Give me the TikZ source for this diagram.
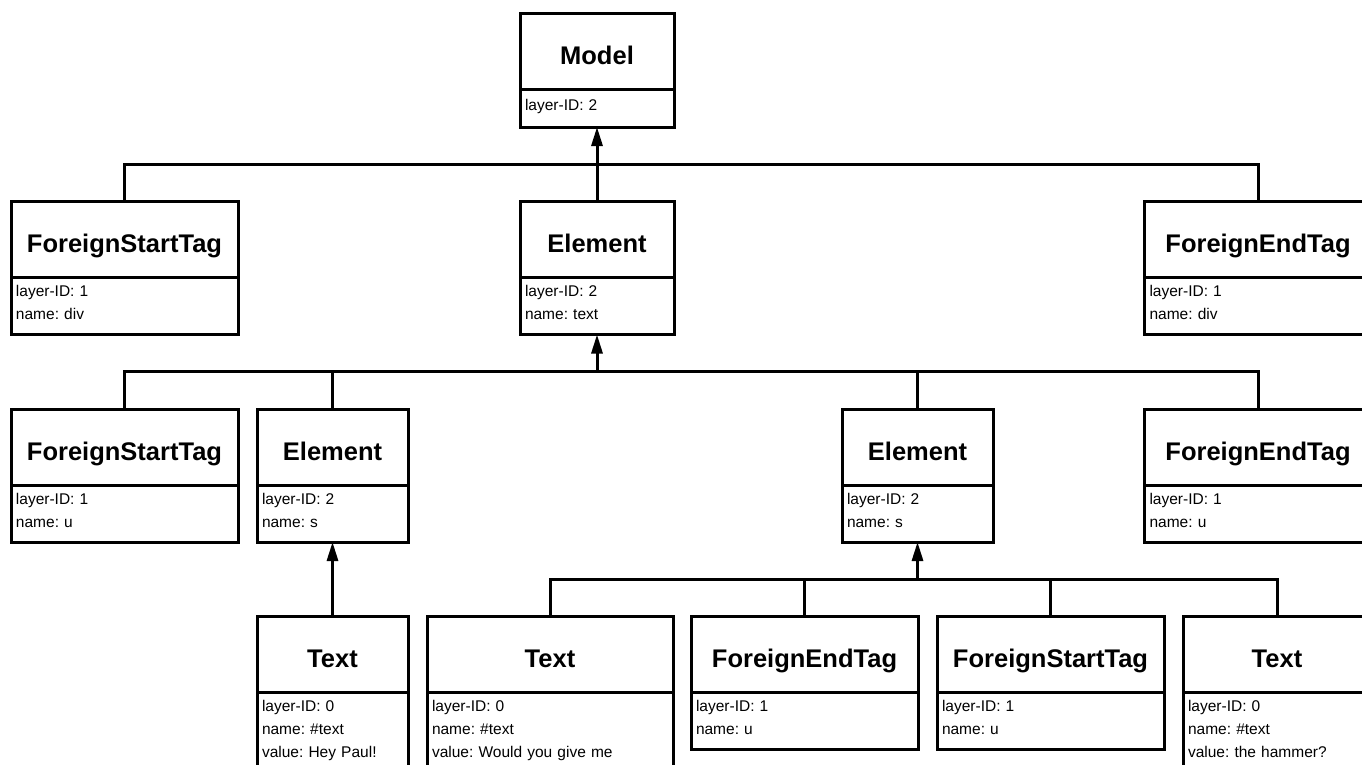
\documentclass[tikz,border=0pt]{standalone}
\usepackage{fontspec}
\setmainfont{Liberation Sans}
\usetikzlibrary{positioning}
\usetikzlibrary{arrows.meta}

\begin{document}
\begin{tikzpicture}[x=1pt,y=-1pt,>={Triangle[length=19pt,width=11pt]},
                line width=3pt,node distance=0pt,
                head/.style={draw,outer sep=0pt,inner sep=0pt,minimum width=#1,minimum height=76pt,
                  text height=26pt,text depth=0pt,font=\bfseries\fontsize{25.5}{30}\selectfont},
                attr/.style={draw,outer sep=0pt,inner xsep=5pt,inner ysep=0pt,text width=#1,align=left,
                  font=\fontsize{15.5}{23}\selectfont\frenchspacing,
                  execute at begin node={\rule{0pt}{19pt}},
                  execute at end node={\rule[-15pt]{0pt}{15pt}}}]

  \useasboundingbox (0,0) rectangle (1362,764);
  \clip (0,0) rectangle (1362,764);

  \node[head=154pt] (1) at (597,51) {Model};
  \node[attr=144pt,minimum height=38pt,below=of 1] (1a) {layer-ID: 2};

  \node[head=227pt] (2) at (124.5,239.5) {ForeignStartTag};
  \node[attr=217pt,below=of 2] (2a) {layer-ID: 1\\name: div};
  \node[head=154pt] (3) at (597,239.5) {Element};
  \node[attr=144pt,below=of 3] (3a) {layer-ID: 2\\name: text};
  \node[head=227pt] (4) at (1258,239.5) {ForeignEndTag};
  \node[attr=217pt,below=of 4] (4a) {layer-ID: 1\\name: div};

  \node[head=227pt] (5) at (124.5,447) {ForeignStartTag};
  \node[attr=217pt,below=of 5] (5a) {layer-ID: 1\\name: u};
  \node[head=151pt] (6) at (332.5,447) {Element};
  \node[attr=141pt,below=of 6] (6a) {layer-ID: 2\\name: s};
  \node[head=151pt] (7) at (917.5,447) {Element};
  \node[attr=141pt,below=of 7] (7a) {layer-ID: 2\\name: s};
  \node[head=227pt] (8) at (1258,447) {ForeignEndTag};
  \node[attr=217pt,below=of 8] (8a) {layer-ID: 1\\name: u};

  \node[head=151pt] (9) at (332.5,654.5) {Text};
  \node[attr=141pt,below=of 9] (9a) {layer-ID: 0\\name: \#text\\value: Hey Paul!};
  \node[head=246pt] (10) at (550,654.5) {Text};
  \node[attr=236pt,below=of 10] (10a) {layer-ID: 0\\name: \#text\\value: Would you give me};
  \node[head=227pt] (11) at (804.5,654.5) {ForeignEndTag};
  \node[attr=217pt,below=of 11] (11a) {layer-ID: 1\\name: u};
  \node[head=227pt] (12) at (1050.5,654.5) {ForeignStartTag};
  \node[attr=217pt,below=of 12] (12a) {layer-ID: 1\\name: u};
  \node[head=188pt] (13) at (1277,654.5) {Text};
  \node[attr=178pt,below=of 13] (13a) {layer-ID: 0\\name: \#text\\value: the hammer?};

  \coordinate (b1) at (597,164);
  \coordinate (b2) at (597,371);
  \coordinate (b3) at (917.5,579);

  \path[->]
    (3) edge (1a)
    (b2) edge (3a)
    (9) edge (6a)
    (b3) edge (7a);

  \draw (2) |- (b1) -| (4);
  \draw (5) |- (b2) -| (8);
  \draw (6) |- (b2);
  \draw (7) |- (b2);
  \draw (10) |- (b3) -| (13);
  \draw (11) |- (b3);
  \draw (12) |- (b3);

\end{tikzpicture}
\end{document}
